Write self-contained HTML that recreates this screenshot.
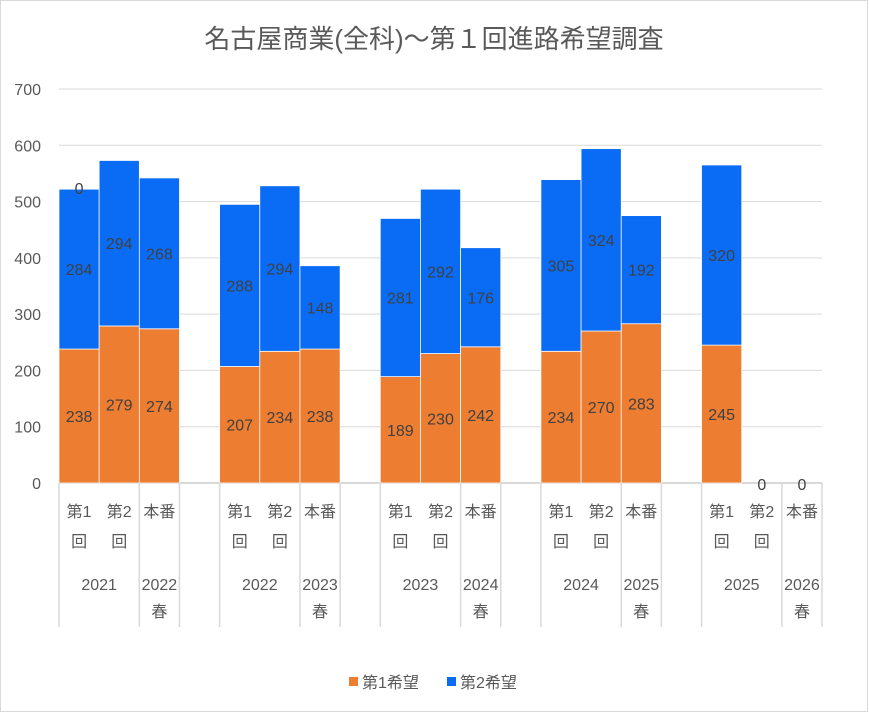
<!DOCTYPE html>
<html><head><meta charset="utf-8"><style>
body{margin:0;background:#fff;}
svg{display:block;font-family:"Liberation Sans","Noto Sans CJK JP",sans-serif;}
</style></head><body>
<svg id="c" width="869" height="713">
<rect x="0.5" y="0.5" width="867" height="711" fill="#fff" stroke="#d9d9d9"/>
<text x="434" y="48" font-size="26" fill="#595959" text-anchor="middle">名古屋商業(全科)～第１回進路希望調査</text>
<g id="grid"></g><g id="bars"></g><g id="labels"></g><g id="axis"></g>
<g>
<rect x="349" y="677" width="9" height="9" fill="#ed7d31"/>
<text x="362" y="688" font-size="16" fill="#595959">第1希望</text>
<rect x="447" y="677" width="9" height="9" fill="#0a6cf5"/>
<text x="460" y="688" font-size="16" fill="#595959">第2希望</text>
</g>
</svg>
<script>
const years=["2021","2022","2023","2024","2025"];
const honbanLabels=["2022","2023","2024","2025","2026"];
const first=[[238,279,274],[207,234,238],[189,230,242],[234,270,283],[245,0,0]];
const second=[[284,294,268],[288,294,148],[281,292,176],[305,324,192],[320,0,0]];
const yTicks=[0,100,200,300,400,500,600,700];
const NS="http://www.w3.org/2000/svg";
const X0=59,SW=40.16,Y0=483,YT=89,YMAX=700;
const y=v=>Y0-(Y0-YT)*v/YMAX;
const slotX=(g,i)=>X0+(g*4+i)*SW;
function mk(p,tag,at,txt){const e=document.createElementNS(NS,tag);for(const k in at)e.setAttribute(k,at[k]);if(txt!==undefined)e.textContent=txt;document.getElementById(p).appendChild(e);return e;}
yTicks.forEach(t=>{
 const l=mk("grid","line",{x1:X0,x2:822,y1:y(t),y2:y(t),stroke:"#d9d9d9","stroke-width":t===0?2:1});
 
 
 const tx=mk("grid","text",{x:41,y:y(t)+6,"font-size":16,fill:"#595959","text-anchor":"end"},t);
 
 
});
years.forEach((yr,g)=>{
 for(let i=0;i<3;i++){
  const a=first[g][i],b=second[g][i],x=slotX(g,i);
  if(a>0){const r=mk("bars","rect",{x:x,y:y(a),width:SW,height:y(0)-y(a),fill:"#ed7d31",stroke:"#fff","stroke-width":0.75});
   
   }
  if(b>0){const r=mk("bars","rect",{x:x,y:y(a+b),width:SW,height:y(a)-y(a+b),fill:"#0a6cf5",stroke:"#fff","stroke-width":0.75});
   
   }
  const cx=x+SW/2;
  if(a>0){const t=mk("labels","text",{x:cx,y:y(a/2)+6,"font-size":16,fill:"#404040","text-anchor":"middle"},a);
   
   
   const t2=mk("labels","text",{x:cx,y:y(a+b/2)+6,"font-size":16,fill:"#404040","text-anchor":"middle"},b);
   
   }
  else{const t=mk("labels","text",{x:cx,y:y(0)+7,"font-size":16,fill:"#404040","text-anchor":"middle"},0);
   
   }
 }
 const sub=["第1","第2","本番"];
 for(let i=0;i<3;i++){
  const cx=slotX(g,i)+SW/2;
  const t=mk("axis","text",{x:cx,y:517,"font-size":16,fill:"#595959","text-anchor":"middle"},sub[i]);
  
  
  if(i<2){const t2=mk("axis","text",{x:cx,y:547,"font-size":16,fill:"#595959","text-anchor":"middle"},"回");
   
   }
 }
 const yl=mk("axis","text",{x:slotX(g,1),y:590,"font-size":16,fill:"#595959","text-anchor":"middle"},yr);
 
 
 const hx=slotX(g,2)+SW/2;
 const h1=mk("axis","text",{x:hx,y:590,"font-size":16,fill:"#595959","text-anchor":"middle"},honbanLabels[g]);
 
 
 const h2=mk("axis","text",{x:hx,y:617,"font-size":16,fill:"#595959","text-anchor":"middle"},"春");
 
 
 [0,2,3].forEach(i=>{const l=mk("axis","line",{x1:slotX(g,i),x2:slotX(g,i),y1:Y0,y2:627,stroke:"#d9d9d9","stroke-width":1.5});
  
  });
});
const z=mk("labels","text",{x:slotX(0,0)+SW/2,y:194,"font-size":16,fill:"#404040","text-anchor":"middle"},0);


</script>
</body></html>
